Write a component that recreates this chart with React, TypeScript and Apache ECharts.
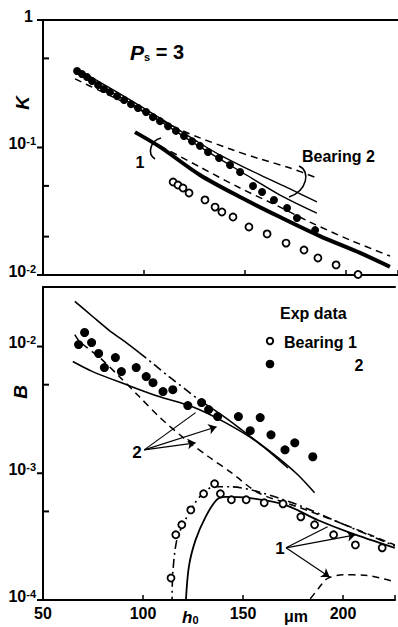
import React, { useEffect, useRef } from 'react';
import * as echarts from 'echarts';

const F = "'Liberation Sans', Arial, sans-serif";

// ---- X axis ----
const xMin = 50;
const xMax = 226;
const xTickStep = 50;

// ---- Top panel (K) ----
const topBearing2Exp = [[66.9,0.398],[69.3,0.377],[71.8,0.357],[74.3,0.332],[77.3,0.309],[80.2,0.288],[83.2,0.272],[86.7,0.253],[90.2,0.236],[93.6,0.219],[97.1,0.204],[101.1,0.19],[104.5,0.173],[108,0.161],[112,0.147],[115.9,0.135],[119.9,0.123],[123.9,0.112],[127.8,0.103],[131.8,0.0922],[137.3,0.0827],[142.7,0.0729],[147.7,0.0643],[154.1,0.0499],[158.6,0.0448],[164.5,0.0388],[171,0.0335],[175.9,0.028],[184.9,0.0225]];
const topBearing1Exp = [[114.5,0.0536],[116.9,0.0508],[119.4,0.0481],[122.4,0.044],[130.3,0.0388],[135.3,0.0341],[138.7,0.0312],[144.2,0.0285],[152.1,0.0238],[161.1,0.021],[170.5,0.0178],[179.4,0.0157],[186.3,0.0136],[195.3,0.012],[206.2,0.0101]];
const topB2Dashed = [[65.9,0.345],[78.3,0.278],[98.1,0.197],[119.4,0.135],[127.8,0.119],[144.2,0.0955],[157.6,0.0813],[172.5,0.0691],[185.8,0.0577]];
const topB2SolidA = [[66.9,0.413],[88.2,0.263],[108,0.17],[127.8,0.108],[137.8,0.0873],[157.6,0.0609],[172.5,0.0473],[185.8,0.0374]];
const topB2SolidB = [[66.9,0.391],[88.2,0.249],[108,0.161],[127.8,0.101],[149.2,0.0631],[167.5,0.0424],[185.8,0.0306]];
const topB1Thick = [[95.6,0.132],[108,0.101],[127.8,0.0609],[147.7,0.0409],[167.5,0.0285],[187.3,0.0202],[207.2,0.0149],[222,0.0116]];
const topB1Dashed = [[108,0.103],[127.8,0.0703],[147.7,0.0481],[167.5,0.0341],[182.4,0.026],[202.2,0.0188],[222,0.0141]];
const topDecadeTicks = [[50,1],[50,0.1],[50,0.01]];
const topMinorTicks = [[50,0.5],[50,0.05],[50,0.02]];

// ---- Bottom panel (B) ----
const botBearing2Exp = [[67.8,0.01037],[70.8,0.01291],[74.3,0.01075],[77.8,0.00881],[80.7,0.00683],[86.2,0.00819],[89.2,0.00634],[96.6,0.00683],[101.6,0.00579],[105,0.00519],[110,0.00441],[114.9,0.00457],[122.4,0.00342],[129.3,0.00361],[132.8,0.00318],[137.3,0.0028],[147.7,0.0028],[153.6,0.00217],[158.6,0.00275],[164,0.00201],[171,0.00153],[175.9,0.00174],[184.9,0.00135]];
const botBearing1Exp = [[114,0.000149],[116.4,0.000327],[119.4,0.000392],[123.9,0.000514],[130.3,0.000689],[135.8,0.000826],[138.7,0.000689],[144.2,0.000618],[151.6,0.000618],[160.6,0.000585],[170,0.000574],[178.9,0.000453],[185.8,0.000392],[195.3,0.000327],[206.2,0.000272],[219.6,0.000258]];
const botB2UpperSolid1 = [[65.9,0.0227],[74.8,0.01726],[83.2,0.01337],[91.6,0.01075],[98.1,0.00897]];
const botB2UpperDashDot = [[98.1,0.00897],[105.5,0.00722],[113,0.00579],[121.4,0.00457],[127.8,0.00381]];
const botB2UpperSolid2 = [[127.8,0.00381],[141.2,0.00275],[152.6,0.00201],[167.5,0.00133],[177.4,0.000973],[185.8,0.000702]];
const botB2Lower = [[64.9,0.00761],[74.8,0.00634],[91.6,0.00501],[108,0.00403],[124.4,0.00336],[141.2,0.00251],[157.6,0.00174],[172.5,0.0011]];
const botB2Dashed = [[65.9,0.01244],[68.3,0.01096],[78.3,0.00819],[88.2,0.00579],[98.1,0.00403],[108,0.0028],[121.4,0.00184],[132.8,0.00135],[144.2,0.00101],[157.6,0.000702],[177.4,0.000543],[197.2,0.000414],[225.9,0.000272]];
const botB1DashDot = [[114.5,0.00009],[114.9,0.000163],[116.9,0.000298],[120.4,0.000406],[125.4,0.000564],[129.3,0.000676],[135.3,0.000782],[144.2,0.000782],[157.6,0.000714],[177.4,0.000564],[197.2,0.000414],[225.9,0.000267]];
const botB1Solid = [[121.3,0.00009],[122.9,0.000182],[126.3,0.000298],[131.3,0.000453],[136.8,0.000618],[141.2,0.000652],[152.6,0.00064],[171,0.000564],[187.3,0.000428],[203.7,0.000339],[225.9,0.000258]];
const botB1LowerDashed = [[178.9,0.00009],[183,0.0001],[188,0.000125],[192.3,0.000148],[200,0.000158],[210.6,0.000157],[225.9,0.000139]];
const botDecadeTicks = [[50,0.01],[50,0.001],[50,0.0001]];
const botMinorTicks = [[50,0.005],[50,0.0005]];

// arrows: [from, to, arrowhead]
const arrows2 = [
  [[100.6,0.00153],[126.3,0.00301],false],
  [[100.6,0.00153],[136.8,0.00233],true],
  [[100.6,0.00153],[126.3,0.00174],true],
];
const arrows1 = [
  [[171.5,0.000258],[192.3,0.000378],false],
  [[171.5,0.000258],[206.2,0.000327],true],
  [[171.5,0.000258],[193.3,0.000152],true],
];

const BLACK = '#000';

function logLabel(v: number): string {
  const l = Math.log10(v);
  const e = Math.round(l);
  if (Math.abs(l - e) > 1e-6) return '';
  if (e === 0) return '{b|1}{e| }';
  return '{b|10}{e|' + e + '}';
}

const labelRich = {
  b: { fontSize: 16, fontWeight: 'bold', fontFamily: F, color: BLACK, lineHeight: 16, verticalAlign: 'bottom' },
  e: { fontSize: 11, fontWeight: 'bold', fontFamily: F, color: BLACK, lineHeight: 11, padding: [0, 0, 13, 0], verticalAlign: 'top' },
};

function xAxisBase(gi: number, showLabel: boolean) {
  return {
    type: 'value', gridIndex: gi, min: xMin, max: xMax, interval: xTickStep,
    axisLine: { show: true, onZero: false, lineStyle: { color: BLACK, width: 2 } },
    axisTick: { show: true, inside: true, length: 5, lineStyle: { color: BLACK, width: 1.5 } },
    splitLine: { show: false },
    axisLabel: {
      show: showLabel, margin: 5, color: BLACK, fontSize: 16, fontWeight: 'bold', fontFamily: F,
      formatter: (v: number) => (Math.abs(v % xTickStep) < 1e-9 ? String(v) : ''),
    },
  };
}
function xAxisTop(gi: number) {
  return {
    type: 'value', gridIndex: gi, position: 'top', min: xMin, max: xMax, interval: xTickStep,
    axisLine: { show: true, onZero: false, lineStyle: { color: BLACK, width: 2 } },
    axisTick: { show: false }, axisLabel: { show: false }, splitLine: { show: false },
  };
}
function yAxisLog(gi: number, min: number, max: number) {
  return {
    type: 'log', logBase: 10, gridIndex: gi, min, max,
    axisLine: { show: true, onZero: false, lineStyle: { color: BLACK, width: 2 } },
    axisTick: { show: false }, splitLine: { show: false }, minorTick: { show: false },
    axisLabel: {
      show: true, margin: 7, showMinLabel: true, showMaxLabel: true, formatter: logLabel, rich: labelRich,
      padding: [0, 0, 8, 0],
    },
  };
}

function line(data: number[][], xi: number, width: number, type: any, extra: any = {}) {
  return {
    type: 'line', xAxisIndex: xi, yAxisIndex: xi, data, symbol: 'none', smooth: 0.3,
    lineStyle: { color: BLACK, width, type, opacity: 1 }, silent: true, z: 3, ...extra,
  };
}
function dots(data: number[][], xi: number, filled: boolean, size: number) {
  return {
    type: 'scatter', xAxisIndex: xi, yAxisIndex: xi, data, symbol: 'circle', symbolSize: size,
    itemStyle: filled
      ? { color: BLACK, opacity: 1 }
      : { color: '#fff', borderColor: BLACK, borderWidth: 1.8, opacity: 1 },
    silent: true, z: 4,
  };
}
function ticks(data: number[][], xi: number, offset: number) {
  return {
    type: 'scatter', xAxisIndex: xi, yAxisIndex: xi, data, symbol: 'rect', symbolSize: [6, 2],
    symbolOffset: [offset, 0], itemStyle: { color: BLACK, opacity: 1 }, clip: false, silent: true, z: 5,
  };
}
function arrowMark(list: any[]) {
  return {
    silent: true, symbolSize: 8,
    lineStyle: { color: BLACK, width: 1.2, type: 'solid', opacity: 1 },
    itemStyle: { color: BLACK },
    label: { show: false },
    data: list.map(([a, b, head]) => [
      { coord: a, symbol: 'none' },
      { coord: b, symbol: head ? 'arrow' : 'none' },
    ]),
  };
}

const txt = (x: number, y: number, text: string, size = 16, extra: any = {}) => ({
  type: 'text', x, y, z: 10,
  style: {
    text, fill: BLACK, fontSize: size, fontWeight: 'bold', fontFamily: F,
    align: 'left', verticalAlign: 'middle', textAlign: 'left', textVerticalAlign: 'middle', ...extra,
  },
});

const option: any = {
  animation: false,
  backgroundColor: '#fff',
  grid: [
    { left: 43, top: 20, width: 355, height: 255 },
    { left: 43, top: 287, width: 355, height: 313 },
  ],
  xAxis: [xAxisBase(0, false), xAxisBase(1, true), xAxisTop(0), xAxisTop(1)],
  yAxis: [yAxisLog(0, 0.01, 1), yAxisLog(1, 0.0001, 0.0295)],
  series: [
    // top
    line(topB2Dashed, 0, 1.5, [7, 5]),
    line(topB2SolidA, 0, 1.4, 'solid'),
    line(topB2SolidB, 0, 1.4, 'solid'),
    line(topB1Thick, 0, 4, 'solid'),
    line(topB1Dashed, 0, 1.5, [7, 5]),
    dots(topBearing2Exp, 0, true, 8),
    dots(topBearing1Exp, 0, false, 7),
    ticks(topDecadeTicks, 0, -3),
    ticks(topMinorTicks, 0, 3),
    // bottom
    line(botB2UpperSolid1, 1, 1.6, 'solid'),
    line(botB2UpperDashDot, 1, 1.6, [9, 4, 2, 4]),
    line(botB2UpperSolid2, 1, 1.6, 'solid'),
    line(botB2Lower, 1, 1.6, 'solid', { markLine: arrowMark(arrows2) }),
    line(botB2Dashed, 1, 1.5, [7, 5]),
    line(botB1DashDot, 1, 1.6, [9, 4, 2, 4], { markLine: arrowMark(arrows1) }),
    line(botB1Solid, 1, 1.8, 'solid'),
    line(botB1LowerDashed, 1, 1.5, [7, 5]),
    dots(botBearing2Exp, 1, true, 9),
    dots(botBearing1Exp, 1, false, 7),
    ticks(botDecadeTicks, 1, -3),
    ticks(botMinorTicks, 1, 3),
  ],
  graphic: [
    {
      type: 'text', x: 130, y: 52, z: 10,
      style: {
        text: '{p|P}{s|s}{n| = 3}', verticalAlign: 'middle', textVerticalAlign: 'middle',
        rich: {
          p: { fontSize: 21, fontStyle: 'italic', fontWeight: 'bold', fontFamily: F, fill: BLACK },
          s: { fontSize: 11, fontWeight: 'bold', fontFamily: F, fill: BLACK, verticalAlign: 'bottom' },
          n: { fontSize: 20, fontWeight: 'bold', fontFamily: F, fill: BLACK },
        },
      },
    },
    { ...txt(22, 103, 'K', 19, { fontStyle: 'italic', align: 'center', textAlign: 'center' }), rotation: Math.PI / 2 },
    { ...txt(20, 392, 'B', 19, { fontStyle: 'italic', align: 'center', textAlign: 'center' }), rotation: Math.PI / 2 },
    txt(302, 156, 'Bearing 2', 16),
    {
      type: 'bezierCurve', z: 10,
      shape: { x1: 299, y1: 166, cpx1: 311, cpy1: 171, cpx2: 307, cpy2: 191, x2: 289, y2: 197 },
      style: { stroke: BLACK, lineWidth: 1.6, fill: 'none' },
    },
    txt(140, 162, '1', 16, { align: 'center', textAlign: 'center' }),
    {
      type: 'bezierCurve', z: 10,
      shape: { x1: 161, y1: 138, cpx1: 150, cpy1: 141, cpx2: 147, cpy2: 154, x2: 155, y2: 159 },
      style: { stroke: BLACK, lineWidth: 1.6, fill: 'none' },
    },
    txt(280, 313, 'Exp data', 16),
    { type: 'circle', z: 10, shape: { cx: 270, cy: 341, r: 3.2 }, style: { fill: '#fff', stroke: BLACK, lineWidth: 2 } },
    txt(284, 342, 'Bearing 1', 16),
    { type: 'circle', z: 10, shape: { cx: 270, cy: 364, r: 4.3 }, style: { fill: BLACK } },
    txt(359, 365, '2', 16, { align: 'center', textAlign: 'center' }),
    txt(137, 452, '2', 17, { align: 'center', textAlign: 'center' }),
    txt(280, 548, '1', 17, { align: 'center', textAlign: 'center' }),
    {
      type: 'text', x: 182, y: 617, z: 10,
      style: {
        text: '{h|h}{z|0}', verticalAlign: 'middle', textVerticalAlign: 'middle',
        rich: {
          h: { fontSize: 17, fontStyle: 'italic', fontWeight: 'bold', fontFamily: F, fill: BLACK },
          z: { fontSize: 11, fontWeight: 'bold', fontFamily: F, fill: BLACK, verticalAlign: 'bottom' },
        },
      },
    },
    txt(296, 616, 'μm', 16, { align: 'center', textAlign: 'center' }),
  ],
};

export default function App() {
  const ref = useRef<HTMLDivElement>(null);
  useEffect(() => {
    if (!ref.current) return;
    const chart = echarts.init(ref.current, null, { renderer: 'svg' });
    chart.setOption(option);
    return () => chart.dispose();
  }, []);
  return (
    <div
      ref={ref}
      style={{ position: 'fixed', left: 0, top: 0, width: 398, height: 627, background: '#fff' }}
    />
  );
}
